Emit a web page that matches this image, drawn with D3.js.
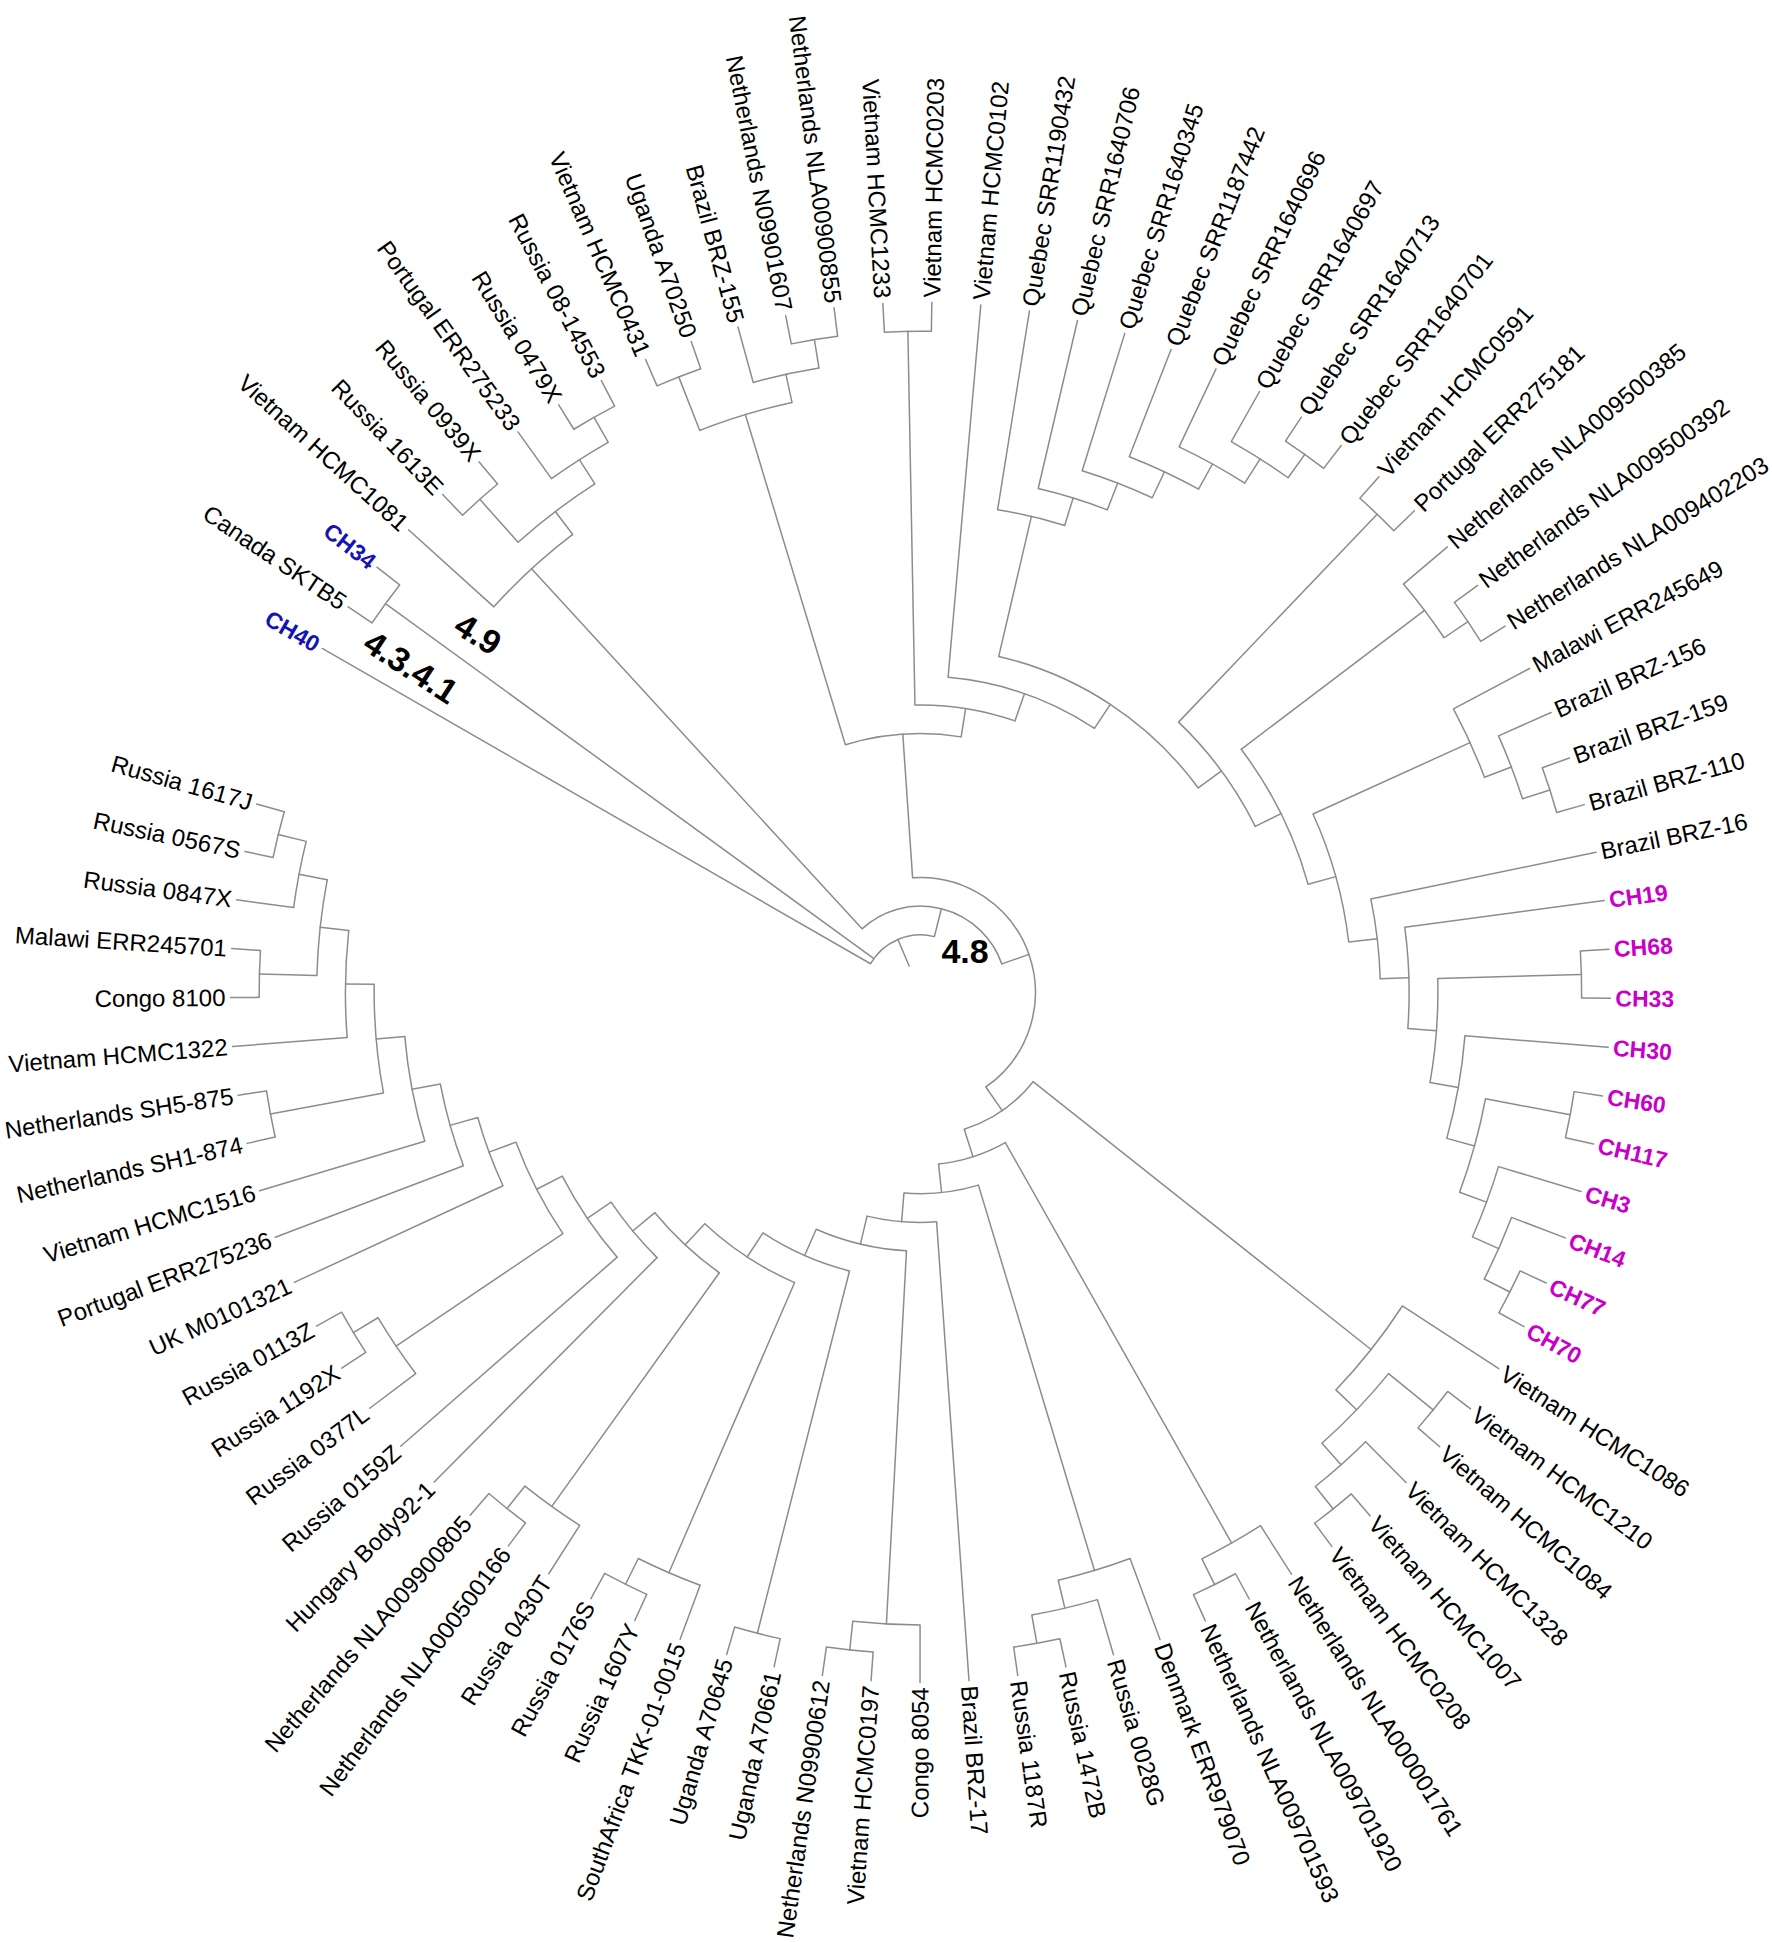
<!DOCTYPE html>
<html><head><meta charset="utf-8">
<script src="https://cdn.jsdelivr.net/npm/d3@7"></script>
<style>html,body{margin:0;padding:0;background:#fff;} svg{display:block;}</style>
</head><body>
<svg id="chart" width="1772" height="1942"></svg>
<script>
// ---- Tree topology (tips listed clockwise, starting with CH40) ----
const cladeCH40 = "CH40,(Canada SKTB5,CH34)";
const clade49 = "(Vietnam HCMC1081,((Russia 1613E,Russia 0939X),(Portugal ERR275233,(Russia 0479X,Russia 08-14553))))";
const cladeU = "((Vietnam HCMC0431,Uganda A70250),(Brazil BRZ-155,(Netherlands N09901607,Netherlands NLA00900855)))";
const cladeQuebec = "(Quebec SRR1190432,(Quebec SRR1640706,(Quebec SRR1640345,(Quebec SRR1187442,(Quebec SRR1640696,(Quebec SRR1640697,(Quebec SRR1640713,Quebec SRR1640701)))))))";
const cladeNL3 = "(Netherlands NLA009500385,(Netherlands NLA009500392,Netherlands NLA009402203))";
const cladeBR = "(Malawi ERR245649,(Brazil BRZ-156,(Brazil BRZ-159,Brazil BRZ-110)))";
const cladeCH = "(Brazil BRZ-16,(CH19,((CH68,CH33),(CH30,((CH60,CH117),(CH3,(CH14,(CH77,CH70))))))))";
const cladeB1 = "(" + cladeU + ",((Vietnam HCMC1233,Vietnam HCMC0203),(Vietnam HCMC0102,(" + cladeQuebec +
  ",((Vietnam HCMC0591,Portugal ERR275181),(" + cladeNL3 + ",(" + cladeBR + "," + cladeCH + ")))))))";
const cladeVN = "(Vietnam HCMC1086,((Vietnam HCMC1210,Vietnam HCMC1084),(Vietnam HCMC1328,(Vietnam HCMC1007,Vietnam HCMC0208))))";
const cladeNL = "(Netherlands NLA000001761,(Netherlands NLA009701920,Netherlands NLA009701593))";
const cladeRU = "(Denmark ERR979070,(Russia 0028G,(Russia 1472B,Russia 1187R)))";
const cladeCV = "(Congo 8054,(Vietnam HCMC0197,Netherlands N09900612))";
const cladeUG = "(Uganda A70661,Uganda A70645)";
const cladeSA = "(SouthAfrica TKK-01-0015,(Russia 1607Y,Russia 0176S))";
const cladeNR = "(Russia 0430T,(Netherlands NLA000500166,Netherlands NLA009900805))";
const cladeLeft = "(Hungary Body92-1,(Russia 0159Z,((Russia 0377L,(Russia 1192X,Russia 0113Z)),(UK M0101321,(Portugal ERR275236,(Vietnam HCMC1516,((Netherlands SH1-874,Netherlands SH5-875),(Vietnam HCMC1322,((Congo 8100,Malawi ERR245701),(Russia 0847X,(Russia 0567S,Russia 1617J))))))))))";
const cladeB2 = "(" + cladeVN + ",(" + cladeNL + ",(" + cladeRU + ",(Brazil BRZ-17,(" + cladeCV + ",(" + cladeUG +
  ",(" + cladeSA + ",(" + cladeNR + "," + cladeLeft + "))))))))";
const treeNewick = "((" + cladeCH40 + ",(" + clade49 + ",(" + cladeB1 + "," + cladeB2 + "))))";

const blueTips = ["CH40", "CH34"];
const magentaTips = ["CH19","CH68","CH33","CH30","CH60","CH117","CH3","CH14","CH77","CH70"];
const cladeTags = ["4.3.4.1", "4.9", "4.8"];

// ---- parse ----
function parseNewick(s) {
  let i = 0;
  function node() {
    if (s[i] === "(") {
      i++;
      const children = [];
      while (true) {
        children.push(node());
        if (s[i] === ",") { i++; continue; }
        if (s[i] === ")") { i++; break; }
        break;
      }
      return { children };
    }
    const st = i;
    while (i < s.length && ",()".indexOf(s[i]) < 0) i++;
    return { name: s.slice(st, i).trim() };
  }
  return node();
}

const root = d3.hierarchy(parseNewick(treeNewick));
const leaves = root.leaves();
const cx = 920.4, cy = 992.4, R = 690;

const angle = d3.scaleLinear().domain([0, leaves.length - 1]).range([209.9, 555.85]);
const radius = d3.scaleLinear().domain([0, root.height + 1]).range([0, R]);
leaves.forEach((d, i) => { d.a = angle(i); });
root.eachAfter(d => {
  if (d.children) d.a = (d.children[0].a + d.children[d.children.length - 1].a) / 2;
  d.r = radius(root.height + 1 - d.height);
});

const rad = a => a * Math.PI / 180;
const px = (r, a) => r * Math.cos(rad(a));
const py = (r, a) => r * Math.sin(rad(a));

const svg = d3.select("#chart");
svg.append("rect").attr("width", 1772).attr("height", 1942).attr("fill", "#fff");
const g = svg.append("g").attr("transform", `translate(${cx},${cy})`);

const stroke = "#8c8c8c", sw = 1.5;
// radial branches
g.append("g").selectAll("line")
  .data(root.descendants().filter(d => d.parent))
  .join("line")
  .attr("x1", d => px(d.parent.r, d.a)).attr("y1", d => py(d.parent.r, d.a))
  .attr("x2", d => px(d.r, d.a)).attr("y2", d => py(d.r, d.a))
  .attr("stroke", stroke).attr("stroke-width", sw).attr("stroke-linecap", "round");

// arcs joining children
g.append("g").selectAll("path")
  .data(root.descendants().filter(d => d.children && d.children.length > 1))
  .join("path")
  .attr("d", d => {
    const p = d3.path();
    const a0 = d.children[0].a, a1 = d.children[d.children.length - 1].a;
    p.moveTo(px(d.r, a0), py(d.r, a0));
    p.arc(0, 0, d.r, rad(a0), rad(a1), false);
    return p.toString();
  })
  .attr("fill", "none").attr("stroke", stroke).attr("stroke-width", sw);

// tip labels
g.append("g").selectAll("text")
  .data(leaves)
  .join("text")
  .attr("transform", d => {
    const n = ((d.a % 360) + 360) % 360;
    const flip = n > 90 && n < 270;
    return `rotate(${d.a}) translate(${R + 5},0)` + (flip ? " rotate(180)" : "");
  })
  .attr("text-anchor", d => { const n = ((d.a % 360) + 360) % 360; return (n > 90 && n < 270) ? "end" : "start"; })
  .attr("dy", "0.35em")
  .attr("font-family", "'Liberation Sans', Arial, sans-serif")
  .attr("font-size", d => (blueTips.includes(d.data.name) || magentaTips.includes(d.data.name)) ? 23 : 24)
  .attr("font-weight", d => (blueTips.includes(d.data.name) || magentaTips.includes(d.data.name)) ? "bold" : "normal")
  .attr("fill", d => blueTips.includes(d.data.name) ? "#1414b4" : magentaTips.includes(d.data.name) ? "#c800c8" : "#000")
  .text(d => d.data.name);

// clade tags
const tagPos = [[411, 667, 33], [478, 634, 32], [965, 951, 0]];
svg.append("g").selectAll("text")
  .data(cladeTags)
  .join("text")
  .attr("transform", (d, i) => `translate(${tagPos[i][0]},${tagPos[i][1]}) rotate(${tagPos[i][2]})`)
  .attr("text-anchor", "middle").attr("dy", "0.35em")
  .attr("font-family", "'Liberation Sans', Arial, sans-serif")
  .attr("font-size", 34).attr("font-weight", "bold").attr("fill", "#000")
  .text(d => d);
</script>
</body></html>
